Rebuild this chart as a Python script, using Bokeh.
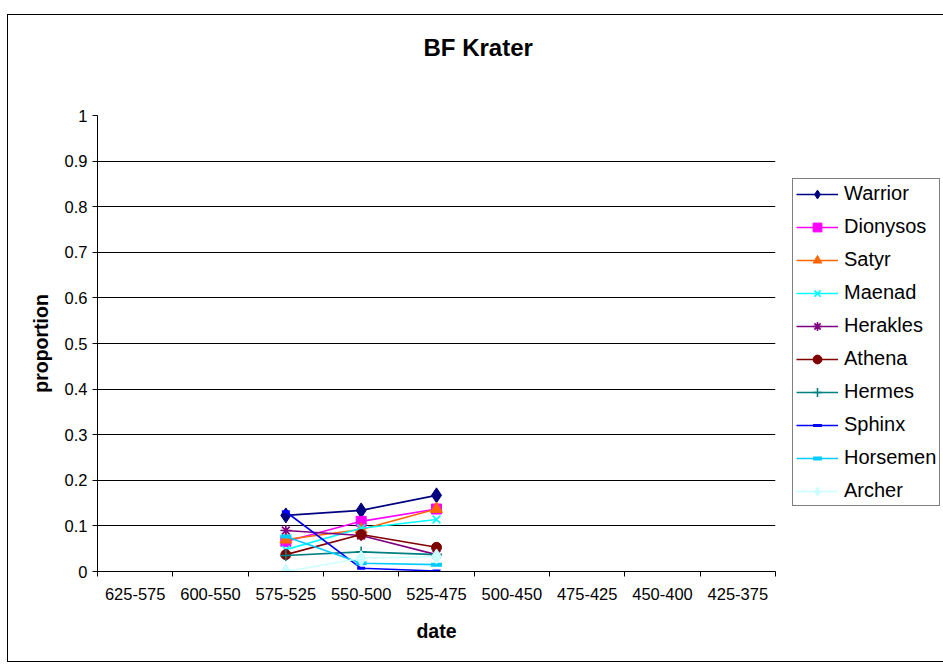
from bokeh.plotting import figure
from bokeh.models import FixedTicker, Legend, LegendItem, Range1d, Spacer, Title
from bokeh.layouts import column, row
from bokeh.embed import file_html
from bokeh.resources import INLINE

categories = ["625-575", "600-550", "575-525", "550-500", "525-475",
              "500-450", "475-425", "450-400", "425-375"]
present = ["575-525", "550-500", "525-475"]

warrior = [0.123, 0.134, 0.167]
dionysos = [0.066, 0.110, 0.137]
satyr = [0.070, 0.092, 0.137]
maenad = [0.048, 0.095, 0.114]
herakles = [0.090, 0.079, 0.037]
athena = [0.037, 0.081, 0.053]
hermes = [0.035, 0.043, 0.037]
sphinx = [0.131, 0.007, 0.001]
horsemen = [0.077, 0.018, 0.015]
archer = [0.000, 0.029, 0.033]

y_ticks = [0, 0.1, 0.2, 0.3, 0.4, 0.5, 0.6, 0.7, 0.8, 0.9, 1]
y_labels = ["0", "0.1", "0.2", "0.3", "0.4", "0.5", "0.6", "0.7", "0.8", "0.9", "1"]

series = [
    ("Warrior", warrior, "#000080", "diamond", 15, 1),
    ("Dionysos", dionysos, "#FF00FF", "square", 10, 1),
    ("Satyr", satyr, "#FF6600", "triangle", 12, 1),
    ("Maenad", maenad, "#00FFFF", "x", 11, 1.6),
    ("Herakles", herakles, "#800080", "asterisk", 11, 1.6),
    ("Athena", athena, "#800000", "circle", 10, 1),
    ("Hermes", hermes, "#008080", "cross", 11, 1.6),
    ("Sphinx", sphinx, "#0000FF", "dash", 8, 3),
    ("Horsemen", horsemen, "#00CCFF", "dash", 11, 4),
    ("Archer", archer, "#CCFFFF", "diamond", 15, 1),
]

xpos = [categories.index(c) + 0.5 for c in present]

p = figure(frame_width=676, frame_height=454, output_backend="svg", toolbar_location=None,
           x_range=Range1d(0, len(categories)), y_range=Range1d(0, 1),
           min_border_left=89, min_border_right=168, min_border_top=100,
           min_border_bottom=92, title=None)
p.styles = {"border": "1px solid black"}
p.outline_line_color = None
p.background_fill_color = "white"
p.xgrid.visible = False
p.ygrid.grid_line_color = "black"
p.ygrid.grid_line_width = 1
p.ygrid.ticker = FixedTicker(ticks=y_ticks)

# spacer panel between the frame and the title
gap = Title(text=" ", text_font_size="1px", standoff=42)
p.add_layout(gap, "above")
title = Title(text="BF Krater", align="left", offset=326, standoff=20,
              text_font="Liberation Sans", text_font_style="bold",
              text_font_size="24px", text_color="black")
p.add_layout(title, "above")

# y axis
p.yaxis.ticker = FixedTicker(ticks=y_ticks)
p.yaxis.major_label_overrides = {t: l for t, l in zip(y_ticks, y_labels)}
p.yaxis.axis_line_color = "black"
p.yaxis.major_tick_in = 0
p.yaxis.major_tick_out = 5
p.yaxis.major_tick_line_color = "black"
p.yaxis.minor_tick_line_color = None
p.yaxis.major_label_text_font = "Liberation Sans"
p.yaxis.major_label_text_font_size = "16.5px"
p.yaxis.major_label_text_color = "black"
p.yaxis.major_label_standoff = 5
p.yaxis.axis_label = "proportion"
p.yaxis.axis_label_text_font = "Liberation Sans"
p.yaxis.axis_label_text_font_style = "bold"
p.yaxis.axis_label_text_font_size = "19.5px"
p.yaxis.axis_label_text_color = "black"
p.yaxis.axis_label_standoff = 10

# x axis
centers = [i + 0.5 for i in range(len(categories))]
p.xaxis.ticker = FixedTicker(ticks=centers, minor_ticks=list(range(len(categories) + 1)))
p.xaxis.major_label_overrides = {c: l for c, l in zip(centers, categories)}
p.xaxis.major_tick_line_color = None
p.xaxis.minor_tick_in = 0
p.xaxis.minor_tick_out = 5
p.xaxis.minor_tick_line_color = "black"
p.xaxis.axis_line_color = "black"
p.xaxis.major_label_text_font = "Liberation Sans"
p.xaxis.major_label_text_font_size = "16.5px"
p.xaxis.major_label_text_color = "black"
p.xaxis.major_label_standoff = 10
p.xaxis.axis_label = "date"
p.xaxis.axis_label_text_font = "Liberation Sans"
p.xaxis.axis_label_text_font_style = "bold"
p.xaxis.axis_label_text_font_size = "19.5px"
p.xaxis.axis_label_text_color = "black"
p.xaxis.axis_label_standoff = 17

items = []
for name, vals, color, marker, size, lw in series:
    r1 = p.line(xpos, vals, line_color=color, line_width=1.6)
    if marker in ("x", "asterisk", "cross", "dash"):
        r2 = p.scatter(xpos, vals, marker=marker, size=size, line_color=color,
                       line_width=lw, fill_color=color)
    else:
        r2 = p.scatter(xpos, vals, marker=marker, size=size, line_color=color,
                       fill_color=color)
    items.append(LegendItem(label=name, renderers=[r1, r2]))

legend = Legend(items=items, location=(17, 65), border_line_color="black",
                border_line_width=1, label_text_font="Liberation Sans",
                label_text_font_size="20px", label_text_color="black",
                glyph_width=42, glyph_height=22,
                label_height=22, spacing=10, padding=3, margin=0,
                label_standoff=6, background_fill_color="white")
p.add_layout(legend, "right")

layout = column(Spacer(height=14), row(Spacer(width=7), p))
open("out.html", "w").write(file_html(layout, INLINE))
